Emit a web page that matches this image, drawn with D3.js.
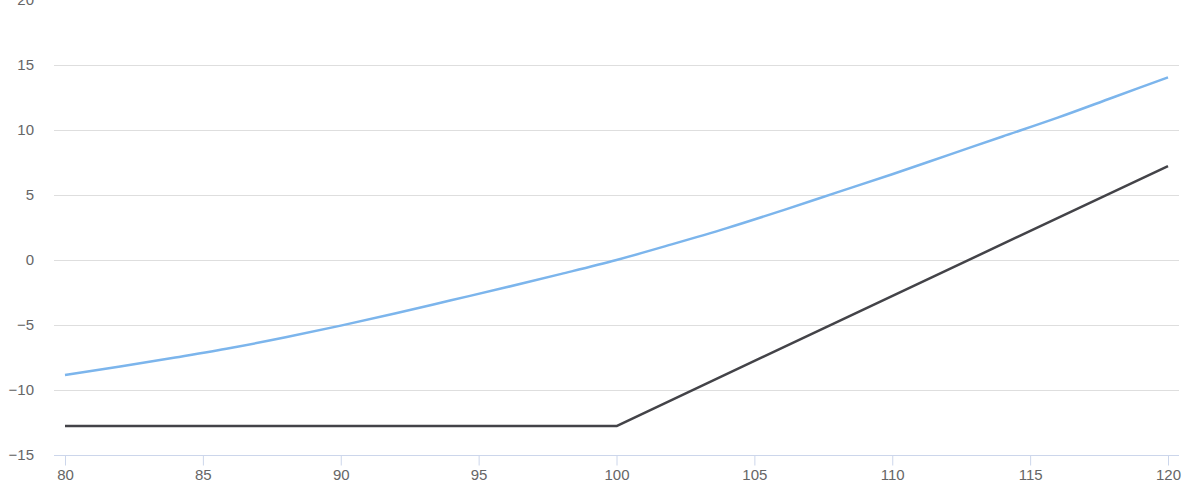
<!DOCTYPE html>
<html>
<head>
<meta charset="utf-8">
<script src="https://cdn.jsdelivr.net/npm/d3@7"></script>
<style>
  html, body { margin: 0; padding: 0; background: #ffffff; }
  svg { display: block; font-family: "Liberation Sans", Arial, Helvetica, sans-serif; }
</style>
</head>
<body>
<svg id="chart" width="1200" height="480"></svg>
<script>
// Data
const priceX = [80, 82, 84, 86, 88, 90, 92, 94, 96, 98, 100, 102, 104, 106, 108, 110, 112, 114, 116, 118, 120];
const valueSeries = [-8.85, -8.2, -7.5, -6.77, -5.95, -5.05, -4.1, -3.1, -2.1, -1.07, 0, 1.2, 2.45, 3.8, 5.2, 6.6, 8.05, 9.5, 10.95, 12.5, 14.05];
const payoffX = [80, 100, 120];
const payoffSeries = [-12.77, -12.77, 7.23];
const xTicks = [80, 85, 90, 95, 100, 105, 110, 115, 120];
const yTicks = [-15, -10, -5, 0, 5, 10, 15, 20];

const svg = d3.select("#chart");
const plotLeft = 54, plotRight = 1179;

const x = d3.scaleLinear().domain([80, 120]).range([65, 1168]);
const y = d3.scaleLinear().domain([-15, 20]).range([455, 0]);

const fmt = v => (v < 0 ? "\u2212" + Math.abs(v) : String(v));

// Grid lines (top one at the very edge is not visible in the reference)
svg.append("g").selectAll("line")
  .data(yTicks.filter(t => t !== -15 && t !== 20))
  .join("line")
  .attr("x1", plotLeft).attr("x2", plotRight)
  .attr("y1", d => y(d) + 0.5).attr("y2", d => y(d) + 0.5)
  .attr("stroke", "#dedede").attr("stroke-width", 1);

// Y labels
svg.append("g").selectAll("text")
  .data(yTicks)
  .join("text")
  .attr("x", 34).attr("y", d => y(d))
  .attr("dy", "0.35em")
  .attr("text-anchor", "end")
  .attr("font-size", 15)
  .attr("fill", "#666666")
  .text(fmt);

// X axis
const xAxis = d3.axisBottom(x).tickValues(xTicks).tickSize(10).tickPadding(4).tickFormat(d => String(d));
const gx = svg.append("g").attr("transform", "translate(0,455.5)").call(xAxis);
gx.select(".domain").remove();
gx.selectAll(".tick line").attr("stroke", "#ccd6eb");
gx.selectAll(".tick text").attr("font-size", 15).attr("fill", "#666666")
  .attr("font-family", "\"Liberation Sans\", Arial, Helvetica, sans-serif");
svg.append("line")
  .attr("x1", plotLeft).attr("x2", plotRight)
  .attr("y1", 455.5).attr("y2", 455.5)
  .attr("stroke", "#ccd6eb").attr("stroke-width", 1);

// Lines
const lineGen = d3.line().x(d => x(d[0])).y(d => y(d[1]));

svg.append("path")
  .datum(priceX.map((p, i) => [p, valueSeries[i]]))
  .attr("fill", "none")
  .attr("stroke", "#7cb5ec")
  .attr("stroke-width", 2.5)
  .attr("stroke-linejoin", "round")
  .attr("d", lineGen.curve(d3.curveMonotoneX));

svg.append("path")
  .datum(payoffX.map((p, i) => [p, payoffSeries[i]]))
  .attr("fill", "none")
  .attr("stroke", "#434348")
  .attr("stroke-width", 2.5)
  .attr("stroke-linejoin", "round")
  .attr("d", d3.line().x(d => x(d[0])).y(d => y(d[1]))(payoffX.map((p, i) => [p, payoffSeries[i]])));
</script>
</body>
</html>
